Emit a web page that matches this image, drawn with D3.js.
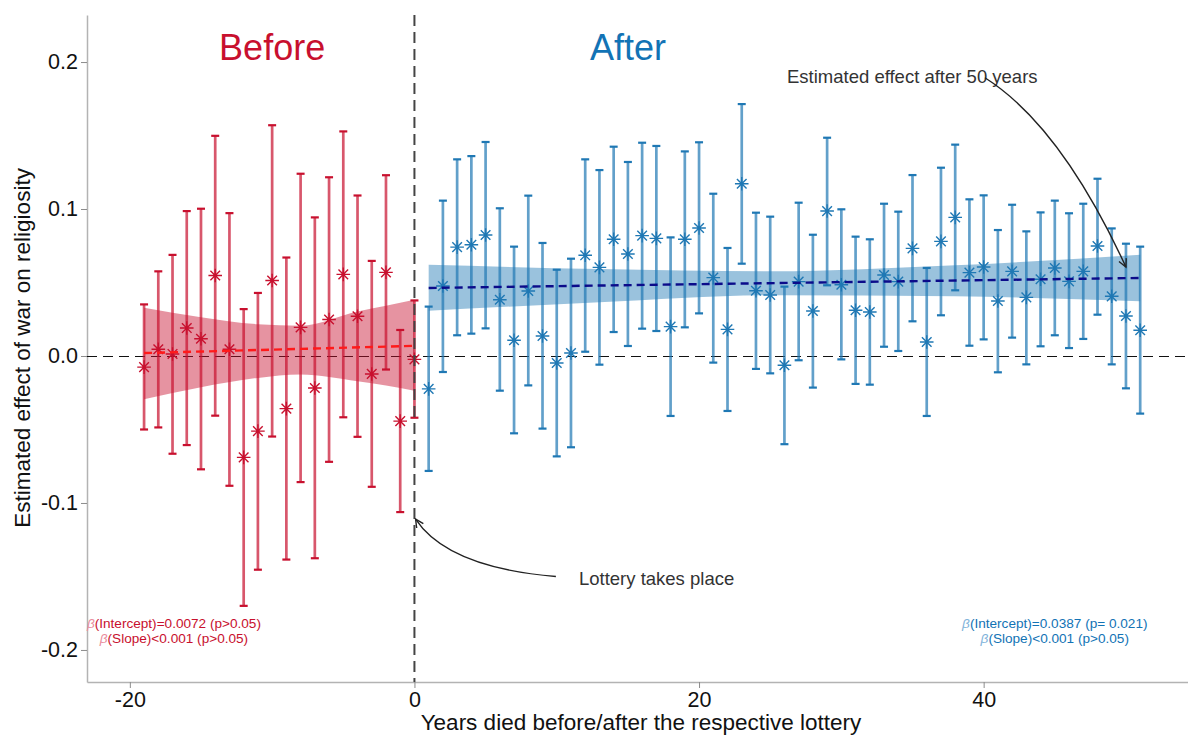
<!DOCTYPE html>
<html>
<head>
<meta charset="utf-8">
<script src="https://cdn.jsdelivr.net/npm/d3@7"></script>
<style>
  body { margin: 0; background: #fff; }
  svg text { font-family: "Liberation Sans", Arial, sans-serif; }
</style>
</head>
<body>
<div id="chart"></div>
<script>
/* Data */
const beforeYears = [-19, -18, -17, -16, -15, -14, -13, -12, -11, -10, -9, -8, -7, -6, -5, -4, -3, -2, -1, 0]
const beforeEst = [-0.0076, 0.0046, 0.0014, 0.0190, 0.0117, 0.0548, 0.0046, -0.0690, -0.0511, 0.0514,
  -0.0358, 0.0195, -0.0218, 0.0248, 0.0555, 0.0270, -0.0122, 0.0569, -0.0443, -0.0023]
const beforeLow = [-0.0500, -0.0486, -0.0665, -0.0606, -0.0771, -0.0406, -0.0883, -0.1700, -0.1454, -0.0548,
  -0.1385, -0.0858, -0.1376, -0.0720, -0.0417, -0.0550, -0.0890, -0.0092, -0.1062, -0.0420]
const beforeHigh = [0.0351, 0.0576, 0.0688, 0.0986, 0.1002, 0.1498, 0.0972, 0.0319, 0.0429, 0.1570,
  0.0670, 0.1240, 0.0943, 0.1216, 0.1528, 0.1092, 0.0647, 0.1230, 0.0177, 0.0378]

const afterYears = [1, 2, 3, 4, 5, 6, 7, 8, 9, 10, 11, 12, 13, 14, 15, 16, 17, 18, 19, 20, 21, 22, 23, 24, 25,
  26, 27, 28, 29, 30, 31, 32, 33, 34, 35, 36, 37, 38, 39, 40, 41, 42, 43, 44, 45, 46, 47, 48, 49, 50, 51]
const afterEst = [-0.0224, 0.0476, 0.0741, 0.0757, 0.0823, 0.0383, 0.0107, 0.0442, 0.0136, -0.0048,
  0.0020, 0.0685, 0.0603, 0.0794, 0.0694, 0.0819, 0.0800, 0.0200, 0.0794, 0.0871,
  0.0533, 0.0181, 0.1172, 0.0444, 0.0415, -0.0063, 0.0506, 0.0306, 0.0986, 0.0485,
  0.0311, 0.0299, 0.0551, 0.0506, 0.0732, 0.0095, 0.0780, 0.0943, 0.0567, 0.0605,
  0.0374, 0.0576, 0.0399, 0.0522, 0.0599, 0.0508, 0.0576, 0.0748, 0.0406, 0.0272, 0.0175]
const afterLow = [-0.0782, -0.0109, 0.0141, 0.0152, 0.0188, -0.0236, -0.0526, -0.0200, -0.0494, -0.0683,
  -0.0621, 0.0029, -0.0059, 0.0163, 0.0068, 0.0186, 0.0170, -0.0408, 0.0195, 0.0290,
  -0.0045, -0.0374, 0.0628, -0.0088, -0.0118, -0.0600, -0.0029, -0.0215, 0.0481, -0.0023,
  -0.0190, -0.0195, 0.0063, 0.0034, 0.0236, -0.0408, 0.0277, 0.0447, 0.0070, 0.0113,
  -0.0111, 0.0125, -0.0057, 0.0066, 0.0141, 0.0054, 0.0116, 0.0281, -0.0057, -0.0220, -0.0392]
const afterHigh = [0.0336, 0.1057, 0.1338, 0.1360, 0.1456, 0.1005, 0.0744, 0.1091, 0.0769, 0.0587,
  0.0662, 0.1338, 0.1265, 0.1424, 0.1320, 0.1451, 0.1429, 0.0807, 0.1392, 0.1454,
  0.1104, 0.0735, 0.1714, 0.0975, 0.0948, 0.0472, 0.1043, 0.0825, 0.1485, 0.0998,
  0.0812, 0.0794, 0.1036, 0.0982, 0.1231, 0.0599, 0.1281, 0.1438, 0.1066, 0.1093,
  0.0857, 0.1029, 0.0848, 0.0977, 0.1057, 0.0971, 0.1036, 0.1206, 0.0868, 0.0764, 0.0744]

// linear fit + confidence band
const beforeBandX = [-19, -15, -11, -8, -4, -2, 0]
const beforeBandLow = [-0.0294, -0.0213, -0.0149, -0.0126, -0.0172, -0.0200, -0.0236]
const beforeBandHigh = [0.0328, 0.0264, 0.0216, 0.0206, 0.0303, 0.0342, 0.0383]
const beforeFitX = [-19, 0]
const beforeFitY = [0.0020, 0.0069]

const afterBandX = [1, 13, 25, 38, 51]
const afterBandLow = [0.0308, 0.0365, 0.0413, 0.0406, 0.0372]
const afterBandHigh = [0.0621, 0.0592, 0.0576, 0.0617, 0.0689]
const afterFitX = [1, 51]
const afterFitY = [0.0463, 0.0531]

const xTicks = [-20, 0, 20, 40]
const yTicks = [-0.2, -0.1, 0.0, 0.1, 0.2]

/* Setup */
const width = 1188
const height = 738
const red = "#C8102E"
const blue = "#1F78B4"

const svg = d3.select("#chart").append("svg")
    .attr("width", width)
    .attr("height", height)

const x = d3.scaleLinear().domain([-23.01, 54.36]).range([87, 1188])
const y = d3.scaleLinear().domain([-0.2218, 0.232]).range([682, 15])

const zip = (xs, ys) => xs.map((d, i) => [d, ys[i]])

/* Axes */
const yAxis = svg.append("g")
    .attr("transform", `translate(${x.range()[0]},0)`)
    .call(d3.axisLeft(y).tickValues(yTicks).tickFormat(d => d.toFixed(1)).tickSize(6).tickSizeOuter(0).tickPadding(3))
const xAxis = svg.append("g")
    .attr("transform", `translate(0,${y.range()[0]})`)
    .call(d3.axisBottom(x).tickValues(xTicks).tickFormat(d => d).tickSize(6).tickSizeOuter(0).tickPadding(4))

;[yAxis, xAxis].forEach(g => {
  g.select(".domain").attr("stroke", "#b3b3b3").attr("stroke-width", 1.5)
  g.selectAll(".tick line").attr("stroke", "#8c8c8c").attr("stroke-width", 1)
  g.selectAll(".tick text").attr("fill", "#111").attr("font-size", 21.5)
      .attr("font-family", "'Liberation Sans', Arial, sans-serif")
})

svg.append("text")
    .attr("transform", `translate(24,${y(0) - 8}) rotate(-90)`)
    .attr("text-anchor", "middle")
    .attr("dominant-baseline", "middle")
    .attr("font-size", 22.5)
    .attr("fill", "#111")
    .text("Estimated effect of war on religiosity")

svg.append("text")
    .attr("x", 641)
    .attr("y", 730)
    .attr("text-anchor", "middle")
    .attr("font-size", 22.5)
    .attr("fill", "#111")
    .text("Years died before/after the respective lottery")

/* Reference lines */
svg.append("line")
    .attr("x1", x.range()[0]).attr("x2", x.range()[1])
    .attr("y1", Math.round(y(0)) + 0.5).attr("y2", Math.round(y(0)) + 0.5)
    .attr("stroke", "#111").attr("stroke-width", 1)
    .attr("stroke-dasharray", "10,6")

/* Bands and fits */
const area = d3.area().curve(d3.curveMonotoneX)
    .x(d => x(d[0])).y0(d => y(d[1])).y1(d => y(d[2]))
const line = d3.line().x(d => x(d[0])).y(d => y(d[1]))

svg.append("path")
    .datum(beforeBandX.map((d, i) => [d, beforeBandLow[i], beforeBandHigh[i]]))
    .attr("d", area)
    .attr("fill", red).attr("fill-opacity", 0.45)

svg.append("path")
    .datum(afterBandX.map((d, i) => [d, afterBandLow[i], afterBandHigh[i]]))
    .attr("d", area)
    .attr("fill", blue).attr("fill-opacity", 0.45)

/* Error bars and markers */
const drawSeries = (years, est, low, high, color) => {
  const g = svg.append("g")
  const rows = years.map((d, i) => ({ year: d, est: est[i], low: low[i], high: high[i] }))
  const capW = 4

  g.selectAll(".bar").data(rows).join("line")
      .attr("x1", d => x(d.year)).attr("x2", d => x(d.year))
      .attr("y1", d => y(d.low)).attr("y2", d => y(d.high))
      .attr("stroke", color).attr("stroke-width", 2.7).attr("stroke-opacity", 0.7)

  ;["low", "high"].forEach(k => {
    g.selectAll(".cap-" + k).data(rows).join("line")
        .attr("x1", d => x(d.year) - capW).attr("x2", d => x(d.year) + capW)
        .attr("y1", d => y(d[k])).attr("y2", d => y(d[k]))
        .attr("stroke", color).attr("stroke-width", 2.2)
  })

  const r = 6.8
  const star = [0, 45, 90, 135].map(a => {
    const t = a * Math.PI / 180
    return `M${-r * Math.cos(t)},${-r * Math.sin(t)}L${r * Math.cos(t)},${r * Math.sin(t)}`
  }).join("")

  g.selectAll(".pt").data(rows).join("path")
      .attr("transform", d => `translate(${x(d.year)},${y(d.est)})`)
      .attr("d", star)
      .attr("fill", "none")
      .attr("stroke", color).attr("stroke-width", 1.4)
}

drawSeries(beforeYears, beforeEst, beforeLow, beforeHigh, red)
drawSeries(afterYears, afterEst, afterLow, afterHigh, blue)

svg.append("path")
    .datum(zip(beforeFitX, beforeFitY))
    .attr("d", line)
    .attr("fill", "none").attr("stroke", "#FF1A1A").attr("stroke-width", 2.4)
    .attr("stroke-dasharray", "8,5")

svg.append("path")
    .datum(zip(afterFitX, afterFitY))
    .attr("d", line)
    .attr("fill", "none").attr("stroke", "#0B0B8A").attr("stroke-width", 2.4)
    .attr("stroke-dasharray", "8,5")

// lottery line
svg.append("line")
    .attr("x1", x(0)).attr("x2", x(0))
    .attr("y1", y.range()[1]).attr("y2", y.range()[0])
    .attr("stroke", "#444").attr("stroke-width", 2)
    .attr("stroke-dasharray", "11,6")

/* Labels */
svg.append("text")
    .attr("x", x(-10)).attr("y", y(0.2102))
    .attr("text-anchor", "middle").attr("dominant-baseline", "central")
    .attr("font-size", 36).attr("fill", red)
    .text("Before")

svg.append("text")
    .attr("x", x(15)).attr("y", y(0.2102))
    .attr("text-anchor", "middle").attr("dominant-baseline", "central")
    .attr("font-size", 36).attr("fill", "#1273B5")
    .text("After")

const betaLabel = (cx, lines, color, light) => {
  lines.forEach((txt, i) => {
    const t = svg.append("text")
        .attr("x", x(cx)).attr("y", y(-0.1814) + i * 15)
        .attr("text-anchor", "middle").attr("dominant-baseline", "central")
        .attr("font-size", 13.6).attr("fill", color)
    t.append("tspan").attr("font-style", "italic").attr("fill", light).text("β")
    t.append("tspan").text(txt)
  })
}
betaLabel(-16.9, ["(Intercept)=0.0072 (p>0.05)", "(Slope)<0.001 (p>0.05)"], red, "#EA8C9C")
betaLabel(45, ["(Intercept)=0.0387 (p= 0.021)", "(Slope)<0.001 (p>0.05)"], "#1273B5", "#7FB3DA")

/* Annotations with curved arrows */
svg.append("defs").append("marker")
    .attr("id", "arrow")
    .attr("viewBox", "-10 -6 12 12")
    .attr("markerWidth", 12).attr("markerHeight", 12)
    .attr("markerUnits", "userSpaceOnUse")
    .attr("orient", "auto")
    .append("path")
    .attr("d", "M-8,-4L0,0L-8,4")
    .attr("fill", "none").attr("stroke", "#222").attr("stroke-width", 1.4)

const curveArrow = (p0, c, p1) => {
  svg.append("path")
      .attr("d", `M${x(p0[0])},${y(p0[1])}Q${x(c[0])},${y(c[1])} ${x(p1[0])},${y(p1[1])}`)
      .attr("fill", "none").attr("stroke", "#222").attr("stroke-width", 1.4)
      .attr("marker-end", "url(#arrow)")
}

svg.append("text")
    .attr("x", x(11.56)).attr("y", y(-0.1517))
    .attr("dominant-baseline", "central")
    .attr("font-size", 18.5).attr("fill", "#333")
    .text("Lottery takes place")
curveArrow([9.94, -0.150], [2.35, -0.144], [0.08, -0.111])

svg.append("text")
    .attr("x", x(26.18)).attr("y", y(0.190))
    .attr("dominant-baseline", "central")
    .attr("font-size", 18.5).attr("fill", "#333")
    .text("Estimated effect after 50 years")
curveArrow([40.09, 0.1893], [45.43, 0.1565], [50.0, 0.0605])
</script>
</body>
</html>
